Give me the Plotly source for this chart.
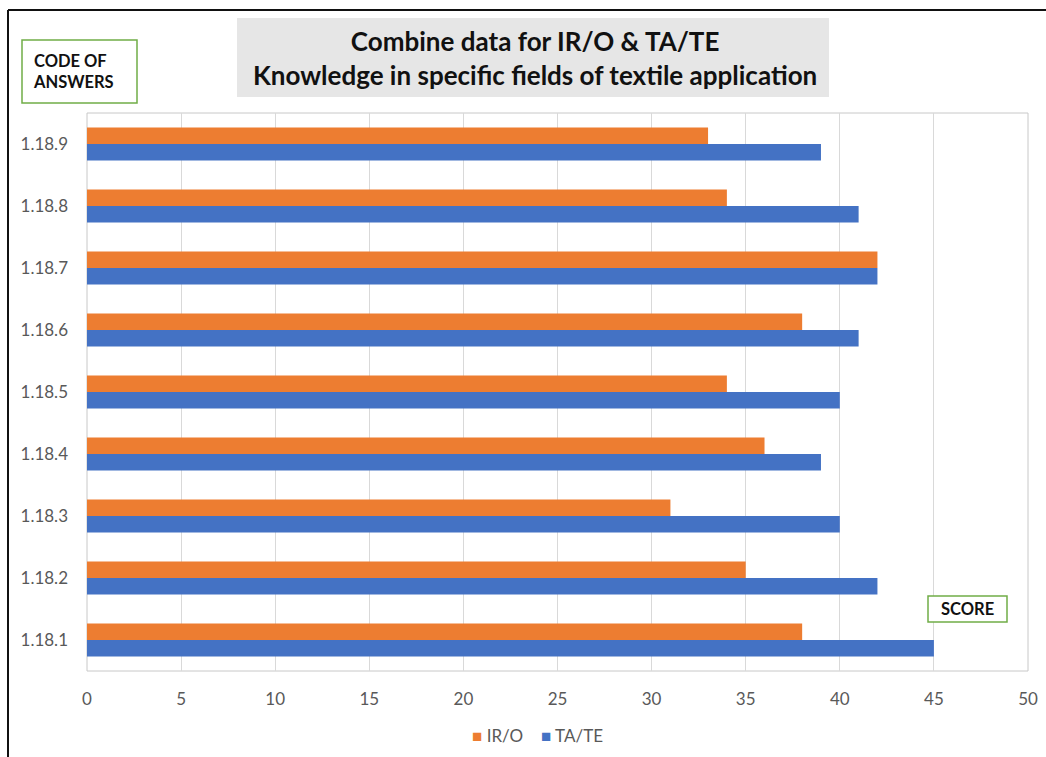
import plotly.graph_objects as go

# Answer codes and scores per group
codes = ["1.18.1", "1.18.2", "1.18.3", "1.18.4", "1.18.5",
         "1.18.6", "1.18.7", "1.18.8", "1.18.9"]
ir_o = [38, 35, 31, 36, 34, 38, 42, 34, 33]
ta_te = [45, 42, 40, 39, 40, 41, 42, 41, 39]
x_ticks = [0, 5, 10, 15, 20, 25, 30, 35, 40, 45, 50]

ORANGE, BLUE = "#ED7D31", "#4472C4"

W, H = 1046, 757
L, R, T, B = 87, 1028, 113, 671  # plot area in pixels


def px(x):
    return (x - L) / (R - L)


def py(y):
    return (B - y) / (B - T)


fig = go.Figure()
fig.add_trace(go.Bar(y=codes, x=ta_te, name="TA/TE", orientation="h",
                     marker=dict(color=BLUE, line_width=0), showlegend=False))
fig.add_trace(go.Bar(y=codes, x=ir_o, name="IR/O", orientation="h",
                     marker=dict(color=ORANGE, line_width=0), showlegend=False))

font_main = "Lato, 'Open Sans', sans-serif"

shapes = [
    # outer frame (top and left edges)
    dict(type="line", xref="paper", yref="paper", x0=px(8), x1=px(1046),
         y0=py(10), y1=py(10), line=dict(color="#111111", width=2)),
    dict(type="line", xref="paper", yref="paper", x0=px(8), x1=px(8),
         y0=py(10), y1=py(757), line=dict(color="#111111", width=2)),
    # plot area border
    dict(type="rect", xref="paper", yref="paper", x0=0, x1=1, y0=0, y1=1,
         line=dict(color="#C8C8C8", width=1), layer="below"),
    # title background
    dict(type="rect", xref="paper", yref="paper", x0=px(237), x1=px(829),
         y0=py(97), y1=py(18), fillcolor="#E6E6E6", line_width=0),
    # side labels
    dict(type="rect", xref="paper", yref="paper", x0=px(22), x1=px(137),
         y0=py(103), y1=py(40), fillcolor="white",
         line=dict(color="#70AD47", width=1.5)),
    dict(type="rect", xref="paper", yref="paper", x0=px(928), x1=px(1007),
         y0=py(622), y1=py(596), fillcolor="white",
         line=dict(color="#70AD47", width=1.5)),
]

annotations = [
    dict(xref="paper", yref="paper", x=px(535), y=py(58), showarrow=False,
         text="<b>Combine data for IR/O &amp; TA/TE<br>Knowledge in specific fields of textile application</b>",
         font=dict(family=font_main, size=26, color="#111111"),
         xanchor="center", yanchor="middle", align="center"),
    dict(xref="paper", yref="paper", x=px(31), y=py(71), showarrow=False,
         text="<b>CODE OF<br>ANSWERS</b>", align="left",
         font=dict(family=font_main, size=16.5, color="#111111"),
         xanchor="left", yanchor="middle"),
    dict(xref="paper", yref="paper", x=px(967), y=py(609), showarrow=False,
         text="<b>SCORE</b>",
         font=dict(family=font_main, size=16.5, color="#111111"),
         xanchor="center", yanchor="middle"),
    # series key
    dict(xref="paper", yref="paper", x=px(470), y=py(735), showarrow=False,
         text=f"<span style='color:{ORANGE}'>■</span> IR/O",
         font=dict(family=font_main, size=17, color="#595959"),
         xanchor="left", yanchor="middle"),
    dict(xref="paper", yref="paper", x=px(539), y=py(735), showarrow=False,
         text=f"<span style='color:{BLUE}'>■</span> TA/TE",
         font=dict(family=font_main, size=17, color="#595959"),
         xanchor="left", yanchor="middle"),
]

fig.update_layout(
    width=W, height=H,
    margin=dict(l=L, r=W - R, t=T, b=H - B, autoexpand=False),
    paper_bgcolor="white", plot_bgcolor="white",
    barmode="group", bargap=0.47, bargroupgap=0,
    showlegend=False,
    font=dict(family=font_main, size=17, color="#595959"),
    xaxis=dict(range=[0, 50], tickvals=x_ticks, showgrid=True,
               gridcolor="#D9D9D9", gridwidth=1, zeroline=False,
               showline=False, ticks="", ticklabelstandoff=16,
               tickfont=dict(size=17, color="#595959")),
    yaxis=dict(categoryorder="array", categoryarray=codes, showgrid=False,
               zeroline=False, showline=False, ticks="",
               ticklabelstandoff=18,
               tickfont=dict(size=17, color="#595959")),
    shapes=shapes,
    annotations=annotations,
)

fig.write_html("out.html")
